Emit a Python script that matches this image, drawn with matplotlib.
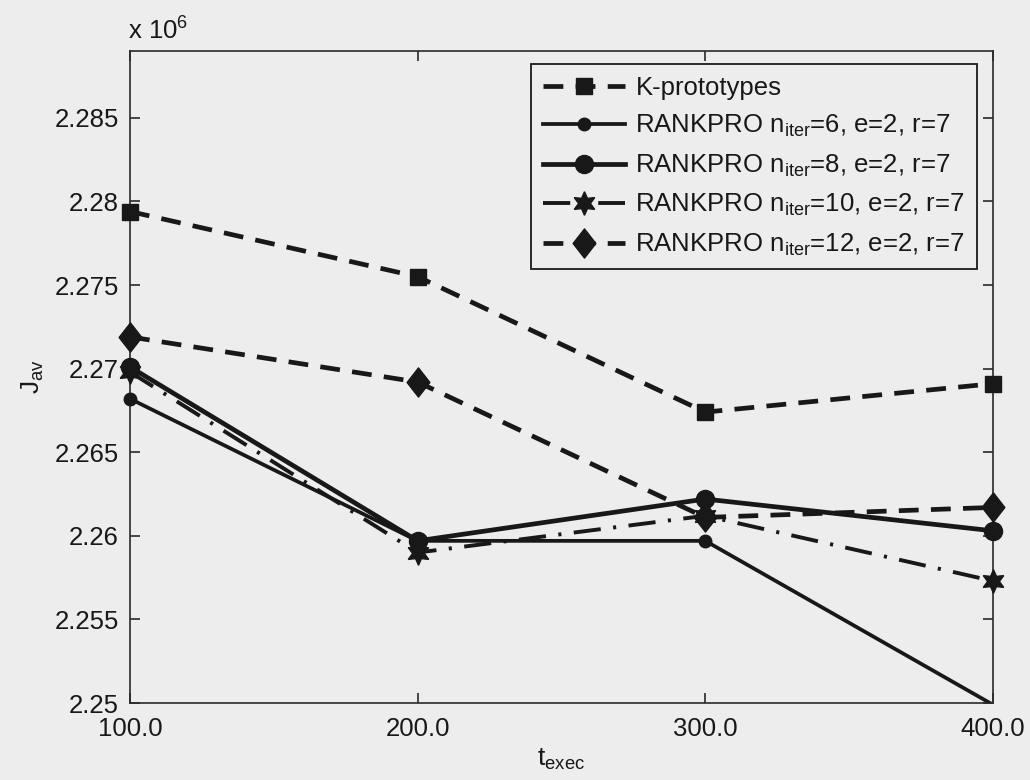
import matplotlib.pyplot as plt
from matplotlib.lines import Line2D
from matplotlib.path import Path
from matplotlib.ticker import FuncFormatter

plt.rcParams["font.family"] = "Liberation Sans"
plt.rcParams["mathtext.fontset"] = "custom"
plt.rcParams["mathtext.rm"] = "Liberation Sans"
plt.rcParams["mathtext.it"] = "Liberation Sans"

FUNDO = "#ededed"
TINTA = "#181818"

# Execution time and average cost J_av for each run
t_exec = [100, 200, 300, 400]
kprototypes = [2.2794e6, 2.2755e6, 2.2674e6, 2.2691e6]
rankpro_n6 = [2.2682e6, 2.2597e6, 2.2597e6, 2.2499e6]
rankpro_n8 = [2.2701e6, 2.2597e6, 2.2622e6, 2.2603e6]
rankpro_n10 = [2.2698e6, 2.2590e6, 2.2612e6, 2.2573e6]
rankpro_n12 = [2.2719e6, 2.2692e6, 2.2611e6, 2.2617e6]

rotulos = [
    "K-prototypes",
    r"RANKPRO n$_{\mathrm{iter}}$=6, e=2, r=7",
    r"RANKPRO n$_{\mathrm{iter}}$=8, e=2, r=7",
    r"RANKPRO n$_{\mathrm{iter}}$=10, e=2, r=7",
    r"RANKPRO n$_{\mathrm{iter}}$=12, e=2, r=7",
]

x_ticks = [100, 200, 300, 400]
y_ticks = [2.25e6, 2.255e6, 2.26e6, 2.265e6, 2.27e6, 2.275e6, 2.28e6, 2.285e6]
y_min, y_max = 2.25e6, 2.289e6

# slightly taller diamond
losango = Path([(0, 1), (0.78, 0), (0, -1), (-0.78, 0), (0, 1)],
               [Path.MOVETO, Path.LINETO, Path.LINETO, Path.LINETO, Path.CLOSEPOLY])

estilos = [
    dict(lw=3.4, dashes=(4.2, 2.6), marker="s", ms=12),
    dict(lw=2.7, dashes=None, marker="o", ms=9),
    dict(lw=3.4, dashes=None, marker="o", ms=13),
    dict(lw=2.8, dashes=(7, 3.2, 0.8, 3.2), marker=(6, 1, 0), ms=17),
    dict(lw=3.4, dashes=(4.2, 2.6), marker=losango, ms=21),
]
series = [kprototypes, rankpro_n6, rankpro_n8, rankpro_n10, rankpro_n12]

fig = plt.figure(figsize=(10.3, 7.8), dpi=100, facecolor=FUNDO)
ax = fig.add_axes([0.1262, 0.0987, 0.8378, 0.8359], facecolor=FUNDO)

handles = []
for valores, est, rotulo in zip(series, estilos, rotulos):
    # line clipped to the axes, markers drawn on top without clipping
    linha, = ax.plot(t_exec, valores, color=TINTA, lw=est["lw"], solid_capstyle="butt")
    if est["dashes"] is not None:
        linha.set_dashes(est["dashes"])
    xs = [t for t, v in zip(t_exec, valores) if y_min <= v <= y_max]
    ys = [v for v in valores if y_min <= v <= y_max]
    ax.plot(xs, ys, linestyle="none", marker=est["marker"], ms=est["ms"],
            color=TINTA, mec=TINTA, mew=1, clip_on=False, zorder=3)

    h = Line2D([], [], color=TINTA, lw=est["lw"], marker=est["marker"],
               ms=est["ms"], mec=TINTA)
    if est["dashes"] is not None:
        h.set_dashes(est["dashes"])
    handles.append(h)

ax.set_xlim(100, 400)
ax.set_ylim(y_min, y_max)
ax.set_xticks(x_ticks)
ax.set_yticks(y_ticks)
ax.xaxis.set_major_formatter(FuncFormatter(lambda v, p: f"{v:.1f}"))
ax.yaxis.set_major_formatter(FuncFormatter(lambda v, p: f"{v / 1e6:g}"))
ax.tick_params(direction="in", length=7, width=1.1, top=True, right=True,
               labelsize=18.5, colors=TINTA, pad=8)
ax.tick_params(axis="x", pad=10)
for s in ax.spines.values():
    s.set_color("#2a2a2a")
    s.set_linewidth(1.2)

ax.set_xlabel(r"t$_{\mathrm{exec}}$", fontsize=19, color=TINTA, labelpad=4)
ax.set_ylabel(r"J$_{\mathrm{av}}$", fontsize=19, color=TINTA, labelpad=6)

# scale factor above the y axis
fig.text(128 / 1030, 1 - 40 / 780, r"x 10$^{6}$", fontsize=18.5, color=TINTA,
         ha="left", va="baseline")

leg = ax.legend(handles, rotulos, loc="upper right", bbox_to_anchor=(0.981, 0.980),
                borderaxespad=0, fontsize=18.5, handlelength=3.2, handletextpad=0.4,
                labelspacing=0.52, borderpad=0.45, numpoints=1, fancybox=False,
                framealpha=1, facecolor=FUNDO, edgecolor="#1a1a1a")
leg.get_frame().set_linewidth(1.3)
for txt in leg.get_texts():
    txt.set_color(TINTA)

fig.savefig("out.png", dpi=100, facecolor=FUNDO)
plt.close(fig)
